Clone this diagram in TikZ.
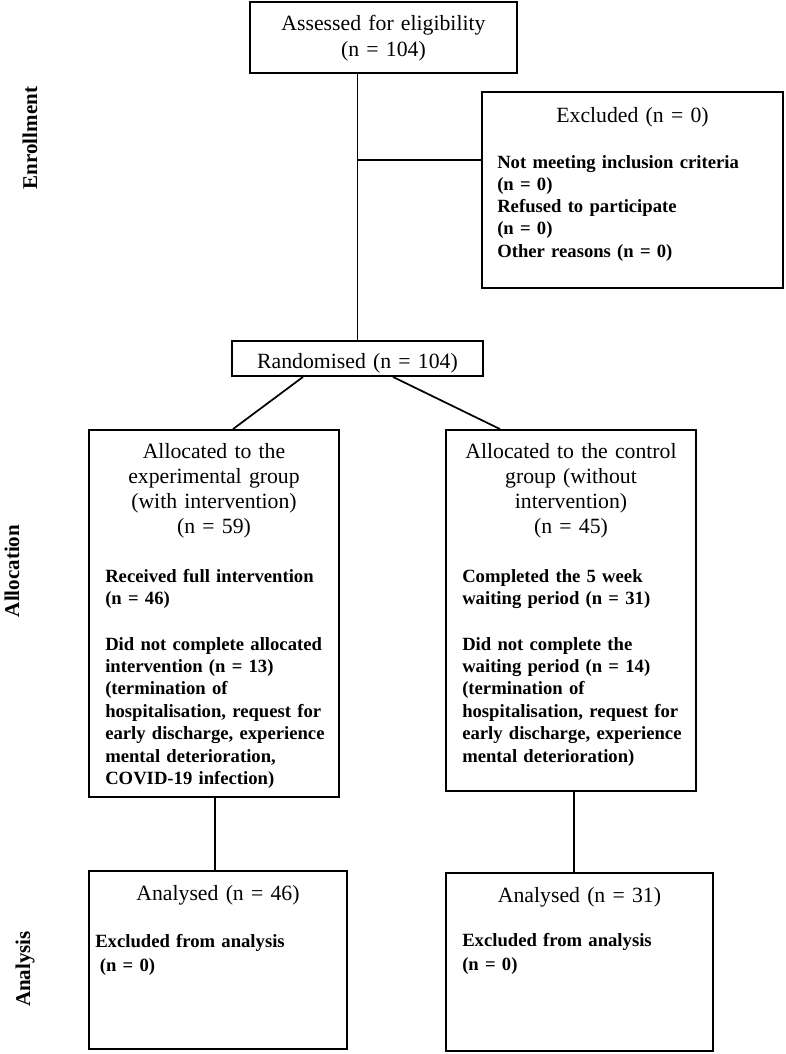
\documentclass[tikz,border=0pt]{standalone}
\usepackage{fontspec}
\setmainfont{Liberation Serif}
\usetikzlibrary{fit,calc}
\begin{document}
\begin{tikzpicture}[x=0.75pt,y=-0.75pt,
  boxnode/.style={draw, line width=1.4pt, inner sep=0pt, rectangle},
  link/.style={line width=1.3pt},
  headtext/.style={font=\fontsize{16.3}{18.75}\selectfont, text width=200pt, align=center, inner sep=0pt, anchor=base},
  bodytext/.style={font=\bfseries\fontsize{14}{16.85}\selectfont, text width=220pt, align=left, inner sep=0pt, anchor=base west},
  phase/.style={font=\bfseries\fontsize{15.75}{18}\selectfont, rotate=90, inner sep=0pt, anchor=center}
]
\useasboundingbox (0,0) rectangle (786,1054);

% boxes
\node[boxnode, fit={(250,2) (517,73)}] (top) {};
\node[boxnode, fit={(482,92) (783,288)}] (excl) {};
\node[boxnode, fit={(232,341) (483,376)}] (rand) {};
\node[boxnode, fit={(89,430) (339,797)}] (alloc1) {};
\node[boxnode, fit={(446,430) (696,791)}] (alloc2) {};
\node[boxnode, fit={(89,871) (347,1049)}] (an1) {};
\node[boxnode, fit={(446,873) (713,1051)}] (an2) {};

% texts
\node[headtext, font=\fontsize{16.3}{19.5}\selectfont] (ttop) at (383.5,30) {Assessed for eligibility\\(n = 104)};
\node[headtext] (texclh) at (632.5,122) {Excluded (n = 0)};
\node[bodytext, font=\bfseries\fontsize{14}{16.7}\selectfont] (texclb) at (497,168) {Not meeting inclusion criteria\\(n = 0)\\Refused to participate\\(n = 0)\\Other reasons (n = 0)};
\node[headtext] (trand) at (357.5,368) {Randomised (n = 104)};

\node[headtext] (ta1h) at (214,458) {Allocated to the\\experimental group\\(with intervention)\\(n = 59)};
\node[bodytext] (ta1b) at (105,582) {Received full intervention\\(n = 46)};
\node[bodytext] (ta1c) at (105,650) {Did not complete allocated\\intervention (n = 13)\\(termination of\\hospitalisation, request for\\early discharge, experience\\mental deterioration,\\COVID-19 infection)};

\node[headtext] (ta2h) at (571,458) {Allocated to the control\\group (without\\intervention)\\(n = 45)};
\node[bodytext] (ta2b) at (462,582) {Completed the 5 week\\waiting period (n = 31)};
\node[bodytext] (ta2c) at (462,650) {Did not complete the\\waiting period (n = 14)\\(termination of\\hospitalisation, request for\\early discharge, experience\\mental deterioration)};

\node[headtext] (tan1h) at (218,900) {Analysed (n = 46)};
\node[bodytext, font=\bfseries\fontsize{14}{18.5}\selectfont] (tan1b) at (95,947) {Excluded from analysis\\\hspace*{3.5pt}(n = 0)};
\node[headtext] (tan2h) at (579.5,902) {Analysed (n = 31)};
\node[bodytext, font=\bfseries\fontsize{14}{18.5}\selectfont] (tan2b) at (462,946) {Excluded from analysis\\(n = 0)};

% phase labels
\node[phase] (penr) at (30,138) {Enrollment};
\node[phase] (palloc) at (12,571) {Allocation};
\node[phase] (pan) at (25,969) {Analysis};

% connectors
\draw[link] (top.south -| rand.north) -- (rand.north);
\coordinate (j) at (357.5,160);
\draw[link] (j) -- (j -| excl.west);
\draw[link] ($(rand.south)+(-54.5,0)$) -- ($(alloc1.north)+(19,0)$);
\draw[link] ($(rand.south)+(35.5,0)$) -- ($(alloc2.north)+(-71,0)$);
\draw[link] ($(alloc1.south)+(1,0)$) coordinate (d1) -- (d1 |- an1.north);
\draw[link] ($(alloc2.south)+(3,0)$) coordinate (d2) -- (d2 |- an2.north);
\end{tikzpicture}
\end{document}
